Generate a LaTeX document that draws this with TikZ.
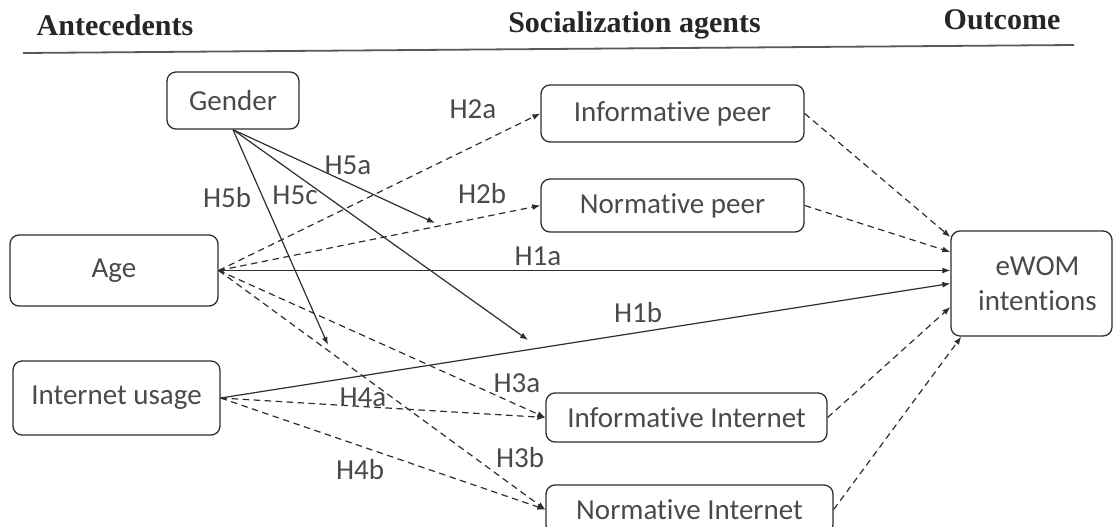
\documentclass[tikz,border=0pt]{standalone}
\usepackage{fontspec}
\setmainfont{Carlito}[Ligatures=NoCommon]
\newfontfamily\hdrfont{Liberation Serif}
\usetikzlibrary{arrows.meta,calc}
\definecolor{txt}{HTML}{4a4a4a}
\definecolor{ln}{HTML}{2e2e2e}
\begin{document}
\begin{tikzpicture}[x=1pt,y=-1pt,
  box/.style={draw=ln, line width=1.3pt, rounded corners=9pt, inner sep=0pt, text=txt,
    font=\fontsize{29}{35}\selectfont, align=center},
  lbl/.style={text=txt, font=\fontsize{29}{35}\selectfont, inner sep=0pt},
  hdr/.style={font=\hdrfont\bfseries\fontsize{30}{35}\selectfont, anchor=base, text=black!85, inner sep=0pt},
  sol/.style={draw=ln, line width=1.2pt, -{Latex[length=8pt,width=6pt]}},
  dsh/.style={sol, dash pattern=on 6.5pt off 4.5pt}]
\useasboundingbox (0,0) rectangle (1116,527);

% header
\node[hdr] (hA) at (115,36) {Antecedents};
\node[hdr] (hS) at (634.5,33) {Socialization agents};
\node[hdr] (hO) at (1002,30) {Outcome};
\coordinate (rl) at (23,53);
\coordinate (rr) at (1074,45);
\draw[line width=1.8pt, black!65] (rl) -- (rr);

% boxes
\node[box, minimum width=132pt, minimum height=57pt] (gender) at (233,100.5) {Gender};
\node[box, minimum width=263pt, minimum height=57pt] (ip) at (672.5,113.5) {Informative peer};
\node[box, minimum width=263pt, minimum height=53pt] (np) at (672.5,205.5) {Normative peer};
\node[box, minimum width=208pt, minimum height=71pt] (age) at (114,270.5) {Age};
\node[box, minimum width=161pt, minimum height=105pt] (ewom) at (1031.5,283.5) {\hspace*{12pt}eWOM\\\hspace*{12pt}intentions};
\node[box, minimum width=207pt, minimum height=74pt] (iu) at (116.5,398) {Internet usage};
\node[box, minimum width=281pt, minimum height=49pt] (ii) at (686.5,417.5) {Informative Internet};
\node[box, minimum width=287pt, minimum height=49pt] (ni) at (689.5,509.5) {Normative Internet};

% moderation targets
\coordinate (t5a) at (435,223);
\coordinate (t5b) at (328,345);
\coordinate (t5c) at (528,340);

% connectors
\draw[dsh] (age.east) -- (ip.west);
\draw[dsh] (age.east) -- (np.west);
\draw[sol, {Latex[length=5pt,width=4pt]}-{Latex[length=8pt,width=6pt]}] (age.east) -- (ewom.west |- age.east);
\draw[sol] (iu.east) -- (ewom.west);
\draw[dsh] (age.east) -- (ii.west);
\draw[dsh] (age.east) -- (ni.west);
\draw[dsh] (iu.east) -- (ii.west);
\draw[dsh] (iu.east) -- (ni.west);
\draw[dsh] (ip.east) -- ([yshift=46.5pt]ewom.west);
\draw[dsh] (np.east) -- ([yshift=31.5pt]ewom.west);
\draw[dsh] (ii.east) -- ([yshift=-23.5pt]ewom.west);
\draw[dsh] (ni.east) -- ([xshift=11pt]ewom.south west);
\draw[sol] (gender.south) -- (t5a);
\draw[sol] (gender.south) -- (t5b);
\draw[sol] (gender.south) -- (t5c);

% labels
\node[lbl] (h2a) at (473,109) {H2a};
\node[lbl] (h5a) at (348,165) {H5a};
\node[lbl] (h5b) at (227,198) {H5b};
\node[lbl] (h5c) at (295,195) {H5c};
\node[lbl] (h2b) at (482,194) {H2b};
\node[lbl] (h1a) at (538,256) {H1a};
\node[lbl] (h1b) at (638,313) {H1b};
\node[lbl] (h3a) at (517,383) {H3a};
\node[lbl] (h4a) at (363,397) {H4a};
\node[lbl] (h3b) at (520,458) {H3b};
\node[lbl] (h4b) at (360,470) {H4b};
\end{tikzpicture}
\end{document}
